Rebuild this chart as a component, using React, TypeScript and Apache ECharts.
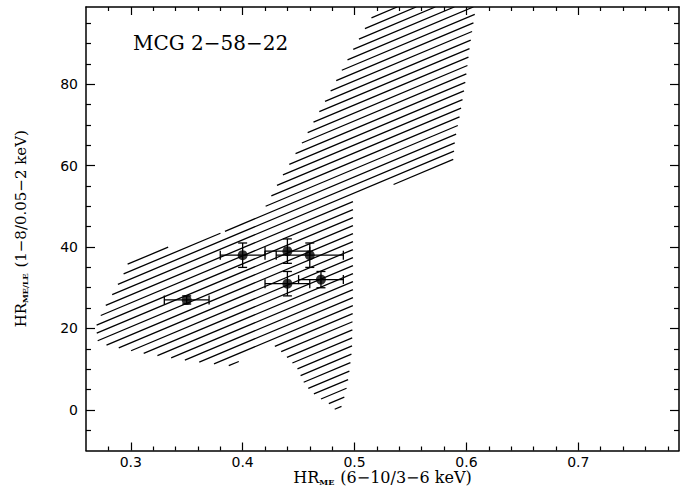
import React, { useEffect, useRef } from "react";
import * as echarts from "echarts";

// Axis ranges and tick positions
const xRange = [0.26, 0.79];
const yRange = [-10, 99];
const xMajorTicks = [0.3, 0.4, 0.5, 0.6, 0.7];
const xMinorTicks = [0.28, 0.32, 0.34, 0.36, 0.38, 0.42, 0.44, 0.46, 0.48, 0.52, 0.54, 0.56, 0.58, 0.62, 0.64, 0.66, 0.68, 0.72, 0.74, 0.76, 0.78];
const yMajorTicks = [0, 20, 40, 60, 80];
const yMinorTicks = [-5, 5, 10, 15, 25, 30, 35, 45, 50, 55, 65, 70, 75, 85, 90, 95];

// Hatched model region, outline traced clockwise (HR_ME, HR_ME/LE)
const regionHR = [0.521, 0.6085, 0.6032, 0.5987, 0.5942, 0.5898, 0.588, 0.5496, 0.4986, 0.4986, 0.4977, 0.495, 0.4923, 0.4879, 0.4843, 0.4789, 0.4655, 0.4557, 0.4486, 0.4369, 0.4262, 0.4173, 0.3887, 0.3529, 0.3083, 0.2707, 0.2689, 0.2725, 0.2779, 0.2832, 0.2886, 0.294, 0.2984, 0.327, 0.3815, 0.4173, 0.4334, 0.453, 0.4718, 0.4897, 0.5075];
const regionHRLE = [99, 99, 89.7, 79.8, 72.5, 66.3, 60.9, 56.5, 52.6, 27.0, 14.7, 8.6, 4.4, 0.45, -0.5, 1.2, 3.4, 6.1, 10.3, 13.7, 16.2, 14.7, 10.8, 12.0, 14.0, 16.4, 20.4, 22.8, 25.8, 28.2, 30.9, 33.6, 36.6, 39.5, 43.5, 48.4, 56.5, 65.6, 74.9, 84.0, 92.9];

// Observations with 1-sigma errors
const obsHR = [0.35, 0.40, 0.44, 0.46, 0.44, 0.47];
const obsHRLE = [27, 38, 39, 38, 31, 32];
const errHR = [0.02, 0.02, 0.02, 0.03, 0.02, 0.02];
const errHRLE = [1, 3, 3, 3, 3, 2];

const titleText = "MCG 2\u221258\u221222";

// Hatch pattern, in screen pixels
const HATCH_SLOPE = 0.42;
const HATCH_STEP = 8;
const HATCH_PHASE = 5.8;

function hatchSegments(poly: number[][]) {
  const k = HATCH_SLOPE;
  const vals = poly.map((p) => p[1] + k * p[0]);
  const cMin = Math.min(...vals);
  const cMax = Math.max(...vals);
  const start = Math.ceil((cMin - HATCH_PHASE) / HATCH_STEP) * HATCH_STEP + HATCH_PHASE;
  const segs: number[][] = [];
  for (let c = start; c <= cMax; c += HATCH_STEP) {
    const xs: number[] = [];
    for (let i = 0; i < poly.length; i++) {
      const p = poly[i];
      const q = poly[(i + 1) % poly.length];
      const fp = p[1] + k * p[0] - c;
      const fq = q[1] + k * q[0] - c;
      if (fp < 0 !== fq < 0) {
        const t = fp / (fp - fq);
        xs.push(p[0] + t * (q[0] - p[0]));
      }
    }
    xs.sort((a, b) => a - b);
    for (let j = 0; j + 1 < xs.length; j += 2) {
      segs.push([xs[j], c - k * xs[j], xs[j + 1], c - k * xs[j + 1]]);
    }
  }
  return segs;
}

const INK = "#000";

function makeAxis(kind: "x" | "y", position: string, ticks: number[], len: number, withLine: boolean, withLabels: boolean, extra: any = {}) {
  const range = kind === "x" ? xRange : yRange;
  return {
    type: "value",
    gridIndex: 0,
    position,
    min: range[0],
    max: range[1],
    axisLine: { show: withLine, onZero: false, lineStyle: { color: INK, width: 1.5 } },
    splitLine: { show: false },
    axisTick: { show: true, inside: true, length: len, customValues: ticks, lineStyle: { color: INK, width: 1.2 } },
    axisLabel: withLabels
      ? {
          show: true,
          customValues: ticks,
          color: INK,
          fontFamily: "DejaVu Sans",
          fontSize: 14,
          lineHeight: 14,
          margin: kind === "x" ? 4 : 8,
          formatter: (v: number) => (kind === "x" ? v.toFixed(1) : String(v)),
        }
      : { show: false },
    ...extra,
  };
}

const nameRich = (size: number) => ({
  n: { fontFamily: "DejaVu Serif", fontSize: size, color: INK, lineHeight: 16, verticalAlign: "middle" },
  s: { fontFamily: "DejaVu Serif", fontSize: 8, fontWeight: "bold", color: INK, lineHeight: 16, verticalAlign: "bottom", padding: [0, 1, 0, 0] },
});

export default function App() {
  const ref = useRef<HTMLDivElement>(null);

  useEffect(() => {
    if (!ref.current) return;
    const chart = echarts.init(ref.current, null, { renderer: "svg" });

    const option: any = {
      animation: false,
      backgroundColor: "#fff",
      grid: { left: 86, right: 2, top: 7, bottom: 35.5, containLabel: false, outerBoundsMode: "none" },
      xAxis: [
        makeAxis("x", "bottom", xMajorTicks, 8, true, true, {
          name: "{n|HR}{s|ME}{n| (6\u221210/3\u22126 keV)}",
          nameLocation: "middle",
          nameGap: 19,
          nameMoveOverlap: false,
          nameTextStyle: { rich: nameRich(16) },
        }),
        makeAxis("x", "bottom", xMinorTicks, 4, false, false),
        makeAxis("x", "top", xMajorTicks, 8, true, false),
        makeAxis("x", "top", xMinorTicks, 4, false, false),
      ],
      yAxis: [
        makeAxis("y", "left", yMajorTicks, 9, true, true, {
          name: "{n|HR}{s|ME/LE}{n| (1\u22128/0.05\u22122 keV)}",
          nameLocation: "middle",
          nameRotate: 90,
          nameGap: 57,
          nameMoveOverlap: false,
          nameTextStyle: { rich: nameRich(15) },
        }),
        makeAxis("y", "left", yMinorTicks, 5, false, false),
        makeAxis("y", "right", yMajorTicks, 9, true, false),
        makeAxis("y", "right", yMinorTicks, 5, false, false),
      ],
      graphic: [
        {
          type: "text",
          left: 133,
          top: 33,
          style: { text: titleText, fontFamily: "DejaVu Serif", fontSize: 20, fill: INK },
        },
      ],
      series: [
        {
          type: "custom",
          name: "region",
          xAxisIndex: 0,
          yAxisIndex: 0,
          clip: true,
          silent: true,
          data: regionHR.map((x, i) => [x, regionHRLE[i]]),
          encode: { x: 0, y: 1 },
          renderItem: (params: any, api: any) => {
            if (params.dataIndex !== 0) return null;
            const poly = regionHR.map((x, i) => api.coord([x, regionHRLE[i]]));
            const segs = hatchSegments(poly);
            return {
              type: "group",
              children: segs.map((s) => ({
                type: "line",
                shape: { x1: s[0], y1: s[1], x2: s[2], y2: s[3] },
                style: { stroke: INK, lineWidth: 1.3 },
              })),
            };
          },
          z: 1,
        },
        {
          type: "custom",
          name: "errors",
          xAxisIndex: 0,
          yAxisIndex: 0,
          silent: true,
          data: obsHR.map((x, i) => [x, obsHRLE[i], errHR[i], errHRLE[i]]),
          encode: { x: 0, y: 1 },
          renderItem: (params: any, api: any) => {
            const x = api.value(0);
            const y = api.value(1);
            const ex = api.value(2);
            const ey = api.value(3);
            const l = api.coord([x - ex, y]);
            const r = api.coord([x + ex, y]);
            const b = api.coord([x, y - ey]);
            const t = api.coord([x, y + ey]);
            const cap = 4.5;
            const st = { stroke: INK, lineWidth: 1.3 };
            const seg = (x1: number, y1: number, x2: number, y2: number) => ({
              type: "line",
              shape: { x1, y1, x2, y2 },
              style: st,
            });
            return {
              type: "group",
              children: [
                seg(l[0], l[1], r[0], r[1]),
                seg(l[0], l[1] - cap, l[0], l[1] + cap),
                seg(r[0], r[1] - cap, r[0], r[1] + cap),
                seg(b[0], b[1], t[0], t[1]),
                seg(b[0] - cap, b[1], b[0] + cap, b[1]),
                seg(t[0] - cap, t[1], t[0] + cap, t[1]),
              ],
            };
          },
          z: 2,
        },
        {
          type: "scatter",
          name: "obs",
          xAxisIndex: 0,
          yAxisIndex: 0,
          symbol: "circle",
          symbolSize: 10,
          itemStyle: { color: INK },
          data: obsHR.map((x, i) => [x, obsHRLE[i]]),
          z: 3,
        },
      ],
    };

    chart.setOption(option);
    return () => chart.dispose();
  }, []);

  return (
    <div
      ref={ref}
      style={{ position: "fixed", left: 0, top: 0, width: 681, height: 486, background: "#fff" }}
    />
  );
}
